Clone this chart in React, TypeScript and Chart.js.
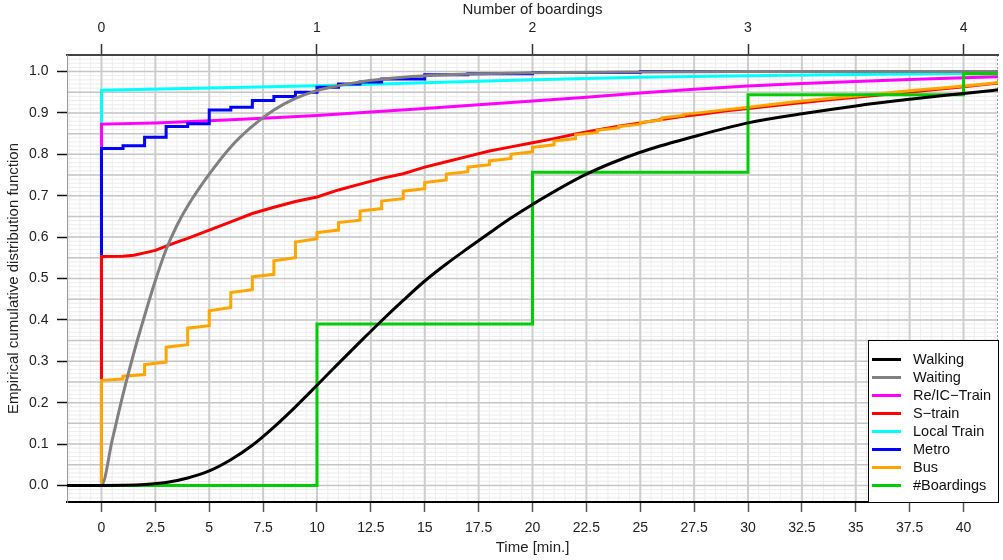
import React, { useEffect, useRef } from 'react';
import { Chart, registerables } from 'chart.js';

Chart.register(...registerables);

const FONT = "'Liberation Sans', Arial, Helvetica, sans-serif";

// ---- axis ticks ----
const timeTicks = [0, 2.5, 5, 7.5, 10, 12.5, 15, 17.5, 20, 22.5, 25, 27.5, 30, 32.5, 35, 37.5, 40];
const timeTickLabels = ['0', '2.5', '5', '7.5', '10', '12.5', '15', '17.5', '20', '22.5', '25', '27.5', '30', '32.5', '35', '37.5', '40'];
const boardingTickMinutes = [0, 10, 20, 30, 40];
const boardingTickLabels = ['0', '1', '2', '3', '4'];
const probTicks = [0, 0.1, 0.2, 0.3, 0.4, 0.5, 0.6, 0.7, 0.8, 0.9, 1.0];
const probTickLabels = ['0.0', '0.1', '0.2', '0.3', '0.4', '0.5', '0.6', '0.7', '0.8', '0.9', '1.0'];

// ---- series ----
const walkingT = [-2, 0, 1, 2, 3, 4, 5, 6, 7, 8, 9, 10, 11, 12, 13, 14, 15, 16, 17, 18, 19, 20, 22.5, 25, 27.5, 30, 32.5, 35, 37.5, 40, 42];
const walkingP = [0, 0, 0.0003, 0.002, 0.007, 0.018, 0.035, 0.062, 0.097, 0.141, 0.19, 0.242, 0.295, 0.347, 0.398, 0.447, 0.494, 0.535, 0.573, 0.61, 0.646, 0.679, 0.752, 0.805, 0.843, 0.876, 0.898, 0.917, 0.933, 0.947, 0.958];

const waitingT = [-2, 0, 0.5, 1, 1.5, 2, 2.5, 3, 3.5, 4, 5, 6, 7, 8, 9, 10, 11, 12, 14, 16, 18, 20, 25, 30, 42];
const waitingP = [0, 0, 0.11, 0.22, 0.32, 0.41, 0.495, 0.57, 0.628, 0.675, 0.752, 0.818, 0.868, 0.907, 0.935, 0.954, 0.966, 0.975, 0.986, 0.992, 0.995, 0.997, 0.999, 1, 1];

const reicT = [-2, 0, 0, 2.5, 5, 7.5, 10, 12.5, 15, 17.5, 20, 22.5, 25, 27.5, 30, 32.5, 35, 37.5, 40, 42];
const reicP = [0, 0, 0.873, 0.876, 0.881, 0.887, 0.894, 0.902, 0.911, 0.92, 0.929, 0.938, 0.948, 0.957, 0.965, 0.971, 0.976, 0.981, 0.985, 0.988];

const strainT = [-2, 0, 0, 1, 1.5, 2, 2.5, 3, 3.5, 4, 5, 6, 7, 8, 9, 10, 11, 12, 13, 14, 15, 16, 17, 18, 19, 20, 21, 22, 23, 24, 25, 26, 27, 28, 29, 30, 32, 34, 36, 38, 40, 42];
const strainP = [0, 0, 0.553, 0.554, 0.556, 0.562, 0.568, 0.578, 0.588, 0.597, 0.617, 0.637, 0.657, 0.672, 0.686, 0.697, 0.714, 0.728, 0.742, 0.753, 0.769, 0.782, 0.795, 0.808, 0.818, 0.828, 0.838, 0.849, 0.859, 0.868, 0.876, 0.884, 0.892, 0.898, 0.905, 0.911, 0.922, 0.933, 0.943, 0.953, 0.963, 0.975];

const localT = [-2, 0, 0, 5, 10, 15, 20, 25, 30, 35, 40, 42];
const localP = [0, 0, 0.955, 0.96, 0.966, 0.973, 0.98, 0.986, 0.99, 0.993, 0.995, 0.996];

const metroT = [-2, 0, 1, 2, 3, 4, 5, 6, 7, 8, 9, 10, 11, 12, 13, 15, 17, 20, 25, 42];
const metroP = [0, 0.814, 0.821, 0.841, 0.867, 0.874, 0.907, 0.914, 0.93, 0.94, 0.95, 0.962, 0.97, 0.975, 0.982, 0.992, 0.995, 0.998, 1, 1];

// Bus: each step starts at busJumpT[k] with value busLow[k] and rises to busHigh[k] before the next step
const busJumpT = [0, 1, 2, 3, 4, 5, 6, 7, 8, 9, 10, 11, 12, 13, 14, 15, 16, 17, 18, 19, 20, 21, 22, 23, 24, 25, 26, 27, 28, 29, 30, 31, 32, 33, 34, 35, 36, 37, 38, 39, 40, 41, 42];
const busLow = [0.254, 0.264, 0.292, 0.334, 0.38, 0.422, 0.466, 0.504, 0.543, 0.588, 0.611, 0.635, 0.663, 0.687, 0.711, 0.732, 0.752, 0.769, 0.784, 0.8, 0.817, 0.832, 0.847, 0.858, 0.867, 0.877, 0.888, 0.896, 0.902, 0.908, 0.914, 0.92, 0.926, 0.931, 0.936, 0.941, 0.946, 0.951, 0.956, 0.96, 0.965, 0.97];
const busHigh = [0.257, 0.268, 0.298, 0.34, 0.386, 0.43, 0.473, 0.51, 0.55, 0.596, 0.617, 0.641, 0.669, 0.693, 0.717, 0.738, 0.758, 0.775, 0.79, 0.806, 0.823, 0.838, 0.853, 0.864, 0.873, 0.883, 0.894, 0.902, 0.908, 0.914, 0.92, 0.926, 0.931, 0.936, 0.941, 0.946, 0.951, 0.956, 0.96, 0.965, 0.97, 0.976];

const boardingsT = [-2, 10, 20, 30, 40, 42];
const boardingsP = [0, 0.39, 0.757, 0.944, 0.995, 0.995];

const seriesNames = ['Walking', 'Waiting', 'Re/IC\u2212Train', 'S\u2212train', 'Local Train', 'Metro', 'Bus', '#Boardings'];
const seriesColors = ['#000000', '#808080', '#ff00ff', '#ff0000', '#00ffff', '#0000ff', '#ffa500', '#00cd00'];
const seriesStepped = [false, false, false, false, false, true, false, true];
const seriesSmooth = [true, true, false, false, false, false, false, false];
const seriesOrder = [0, 2, 6, 4, 7, 5, 3, 1];

const zip = (t: number[], p: number[]) => t.map((v, k) => ({ x: v, y: p[k] }));

function busPoints() {
  const pts: { x: number; y: number }[] = [{ x: -2, y: 0 }, { x: 0, y: 0 }];
  for (let k = 0; k < busLow.length; k++) {
    pts.push({ x: busJumpT[k], y: busLow[k] });
    pts.push({ x: busJumpT[k + 1], y: busHigh[k] });
  }
  return pts;
}

const gridPlugin = {
  id: 'rGrid',
  beforeDraw(chart: any) {
    const { ctx, chartArea, scales } = chart;
    const { left, right, top, bottom } = chartArea;
    const x = scales.x;
    const y = scales.y;
    ctx.save();
    ctx.fillStyle = '#ffffff';
    ctx.fillRect(0, 0, chart.width, chart.height);
    const vline = (v: number) => {
      const px = x.getPixelForValue(v);
      ctx.beginPath();
      ctx.moveTo(px, top);
      ctx.lineTo(px, bottom);
      ctx.stroke();
    };
    const hline = (v: number) => {
      const py = y.getPixelForValue(v);
      ctx.beginPath();
      ctx.moveTo(left, py);
      ctx.lineTo(right, py);
      ctx.stroke();
    };
    ctx.strokeStyle = '#ececec';
    ctx.lineWidth = 1;
    for (let i = -3; i <= 83; i++) vline(i * 0.5);
    for (let i = -4; i <= 104; i++) hline(i * 0.01);
    ctx.strokeStyle = '#c6c6c6';
    ctx.lineWidth = 1.5;
    for (let i = 0; i <= 20; i++) hline(i * 0.05);
    ctx.strokeStyle = '#cdcdcd';
    ctx.lineWidth = 2;
    for (let i = 0; i <= 16; i++) vline(i * 2.5);
    ctx.strokeStyle = '#9a9a9a';
    ctx.lineWidth = 1;
    ctx.setLineDash([2, 2]);
    ctx.beginPath();
    ctx.moveTo(right - 0.5, top);
    ctx.lineTo(right - 0.5, bottom);
    ctx.stroke();
    ctx.restore();
  },
};

const legendPlugin = {
  id: 'rLegend',
  afterDraw(chart: any) {
    const { ctx, chartArea } = chart;
    const w = 130;
    const h = 162;
    const x0 = chartArea.right - w;
    const y0 = chartArea.bottom - h;
    ctx.save();
    ctx.fillStyle = '#ffffff';
    ctx.fillRect(x0, y0, w, h);
    ctx.strokeStyle = '#000000';
    ctx.lineWidth = 1;
    ctx.strokeRect(x0 + 0.5, y0 + 0.5, w, h);
    ctx.font = `14.5px ${FONT}`;
    ctx.textBaseline = 'middle';
    ctx.textAlign = 'left';
    seriesNames.forEach((name, i) => {
      const yy = y0 + 19.5 + i * 18;
      ctx.strokeStyle = seriesColors[i];
      ctx.lineWidth = 3;
      ctx.beginPath();
      ctx.moveTo(x0 + 4, yy);
      ctx.lineTo(x0 + 33, yy);
      ctx.stroke();
      ctx.fillStyle = '#111111';
      ctx.fillText(name, x0 + 45, yy);
    });
    ctx.restore();
  },
};

export default function App() {
  const canvasRef = useRef<HTMLCanvasElement | null>(null);

  useEffect(() => {
    const canvas = canvasRef.current;
    if (!canvas) return;
    const seriesData = [
      zip(walkingT, walkingP),
      zip(waitingT, waitingP),
      zip(reicT, reicP),
      zip(strainT, strainP),
      zip(localT, localP),
      zip(metroT, metroP),
      busPoints(),
      zip(boardingsT, boardingsP),
    ];
    const datasets = seriesNames.map((name, i) => ({
      label: name,
      data: seriesData[i],
      borderColor: seriesColors[i],
      backgroundColor: seriesColors[i],
      borderWidth: 3,
      pointRadius: 0,
      fill: false,
      stepped: seriesStepped[i] ? 'before' : false,
      cubicInterpolationMode: seriesSmooth[i] ? 'monotone' : 'default',
      tension: 0,
      order: seriesOrder[i],
      xAxisID: 'x',
      yAxisID: 'y',
    }));

    const tickFont = { family: FONT, size: 14 };
    const titleFont = { family: FONT, size: 15 };
    const chart = new Chart(canvas, {
      type: 'line',
      data: { datasets: datasets as any },
      options: {
        responsive: false,
        animation: false,
        devicePixelRatio: 1,
        parsing: false as any,
        layout: { padding: { left: 0, right: 5, top: 0, bottom: 0 } },
        plugins: {
          legend: { display: false },
          tooltip: { enabled: false },
        },
        scales: {
          x: {
            type: 'linear',
            position: 'bottom',
            min: -1.6,
            max: 41.6,
            afterBuildTicks: (axis: any) => {
              axis.ticks = timeTicks.map((v) => ({ value: v }));
            },
            afterFit: (axis: any) => {
              axis.height = 58;
            },
            ticks: {
              autoSkip: false,
              maxRotation: 0,
              minRotation: 0,
              padding: 8,
              color: '#222222',
              font: tickFont,
              callback: (_v: any, idx: number) => timeTickLabels[idx],
            },
            grid: {
              display: true,
              drawOnChartArea: false,
              drawTicks: true,
              tickLength: 10,
              tickColor: '#555555',
              tickWidth: 1.5,
            },
            border: { display: true, color: '#000000', width: 2 },
            title: {
              display: true,
              text: 'Time [min.]',
              color: '#222222',
              font: titleFont,
              padding: { top: 0, bottom: 3 },
            },
          },
          x2: {
            type: 'linear',
            position: 'top',
            min: -1.6,
            max: 41.6,
            afterBuildTicks: (axis: any) => {
              axis.ticks = boardingTickMinutes.map((v) => ({ value: v }));
            },
            afterFit: (axis: any) => {
              axis.height = 55;
            },
            ticks: {
              autoSkip: false,
              maxRotation: 0,
              minRotation: 0,
              padding: 7,
              color: '#222222',
              font: tickFont,
              callback: (_v: any, idx: number) => boardingTickLabels[idx],
            },
            grid: {
              display: true,
              drawOnChartArea: false,
              drawTicks: true,
              tickLength: 11,
              tickColor: '#333333',
              tickWidth: 1.5,
            },
            border: { display: true, color: '#444444', width: 2 },
            title: {
              display: true,
              text: 'Number of boardings',
              color: '#222222',
              font: titleFont,
              padding: { top: 1, bottom: 0 },
            },
          },
          y: {
            type: 'linear',
            position: 'left',
            min: -0.04,
            max: 1.04,
            afterBuildTicks: (axis: any) => {
              axis.ticks = probTicks.map((v) => ({ value: v }));
            },
            afterFit: (axis: any) => {
              axis.width = 67;
            },
            ticks: {
              autoSkip: false,
              padding: 8.5,
              color: '#222222',
              font: tickFont,
              callback: (_v: any, idx: number) => probTickLabels[idx],
            },
            grid: {
              display: true,
              drawOnChartArea: false,
              drawTicks: true,
              tickLength: 10,
              tickColor: '#111111',
              tickWidth: 1.5,
            },
            border: { display: true, color: '#9a9a9a', width: 1, dash: [2, 2] },
            title: {
              display: true,
              text: 'Empirical cumulative distribution function',
              color: '#222222',
              font: titleFont,
              padding: { top: 5, bottom: 0 },
            },
          },
        },
      } as any,
      plugins: [gridPlugin, legendPlugin],
    });
    return () => {
      chart.destroy();
    };
  }, []);

  return (
    <div style={{ position: 'absolute', left: 0, top: 0, width: 1003, height: 560, background: '#ffffff' }}>
      <canvas ref={canvasRef} width={1003} height={560} style={{ display: 'block' }} />
    </div>
  );
}
